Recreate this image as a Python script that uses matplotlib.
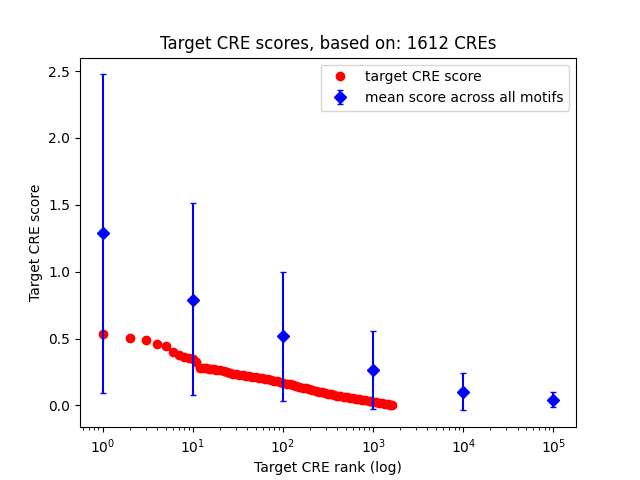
import matplotlib
matplotlib.use('Agg')
import matplotlib.pyplot as plt
import numpy as np

# target CRE scores (rank -> score)
cre_ranks = [1, 2, 3, 4, 5, 6, 7, 8, 9, 10, 11, 12,
             13, 14, 15, 16, 17, 18, 20, 22, 24, 26, 28, 30, 33, 36, 39, 42,
             46, 50, 54, 58, 63, 68, 74, 80, 87, 94, 100, 110, 120, 130, 140,
             150, 165, 180, 195, 210, 230, 250, 270, 290, 315, 340, 370, 400,
             430, 470, 510, 550, 600, 650, 700, 760, 820, 890, 960, 1000, 1080,
             1170, 1260, 1360, 1470, 1550, 1612]
cre_scores = [0.537, 0.504, 0.487, 0.457, 0.442, 0.40, 0.374, 0.36, 0.355, 0.35, 0.324, 0.28,
              0.278, 0.277, 0.275, 0.273, 0.27, 0.267, 0.262, 0.255, 0.248, 0.243, 0.238, 0.235,
              0.231, 0.227, 0.223, 0.22, 0.216, 0.212, 0.208, 0.204, 0.199, 0.195, 0.19, 0.185,
              0.18, 0.175, 0.17, 0.163, 0.157, 0.15, 0.145, 0.14, 0.133, 0.127, 0.121, 0.116,
              0.11, 0.104, 0.099, 0.094, 0.088, 0.083, 0.078, 0.073, 0.069, 0.064, 0.06, 0.056,
              0.052, 0.048, 0.045, 0.041, 0.038, 0.034, 0.03, 0.028, 0.024, 0.02, 0.016, 0.012,
              0.008, 0.004, 0.0]

# mean score across all motifs with error range
motif_ranks = [1, 10, 100, 1000, 10000, 100000]
motif_mean = [1.287, 0.79, 0.516, 0.262, 0.102, 0.043]
motif_low = [0.095, 0.075, 0.03, -0.025, -0.037, -0.013]
motif_high = [2.475, 1.51, 0.995, 0.554, 0.242, 0.10]

n_cre = 1612

lower = np.array(motif_mean) - np.array(motif_low)
upper = np.array(motif_high) - np.array(motif_mean)

fig, ax = plt.subplots(figsize=(6.4, 4.8), dpi=100)
ax.plot(cre_ranks, cre_scores, 'ro', label='target CRE score')
ax.errorbar(motif_ranks, motif_mean, yerr=[lower, upper], fmt='bD', capsize=2,
            label='mean score across all motifs')
ax.set_xscale('log')
ax.set_xlabel('Target CRE rank (log)')
ax.set_ylabel('Target CRE score')
ax.set_title('Target CRE scores, based on: %d CREs' % n_cre)
ax.legend(loc='upper right')

plt.savefig('out.png')
